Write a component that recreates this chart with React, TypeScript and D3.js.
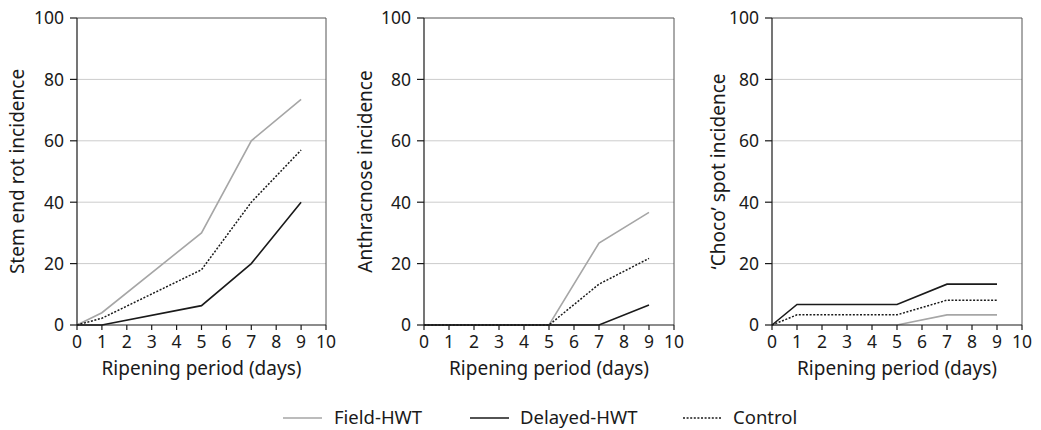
import React from "react";
import * as d3 from "d3";

const days = [0, 1, 5, 7, 9];
const xTicks = [0, 1, 2, 3, 4, 5, 6, 7, 8, 9, 10];
const yTicks = [0, 20, 40, 60, 80, 100];

const seriesNames = ["Field-HWT", "Delayed-HWT", "Control"];

const stemField = [0, 4, 30, 60, 73.5];
const stemDelayed = [0, 0, 6.3, 20, 40];
const stemControl = [0, 2.2, 18, 40, 57];

const anthField = [0, 0, 0, 26.7, 36.7];
const anthDelayed = [0, 0, 0, 0, 6.5];
const anthControl = [0, 0, 0, 13.3, 21.7];

const chocoField = [0, 0, 0, 3.3, 3.3];
const chocoDelayed = [0, 6.7, 6.7, 13.3, 13.3];
const chocoControl = [0, 3.3, 3.3, 8.1, 8.1];

const panelTitles = ["Stem end rot incidence", "Anthracnose incidence", "\u2018Choco\u2019 spot incidence"];
const xTitle = "Ripening period (days)";

const panels = [
  { title: panelTitles[0], data: [stemField, stemDelayed, stemControl], x0: 77, x1: 326, tx: 17 },
  { title: panelTitles[1], data: [anthField, anthDelayed, anthControl], x0: 424, x1: 674, tx: 365 },
  { title: panelTitles[2], data: [chocoField, chocoDelayed, chocoControl], x0: 772, x1: 1022, tx: 718 },
];

const styles = [
  { stroke: "#a6a6a6", dash: undefined as string | undefined, width: 1.6 },
  { stroke: "#1a1a1a", dash: undefined as string | undefined, width: 1.6 },
  { stroke: "#1a1a1a", dash: "2,1.6", width: 1.5 },
];

const FONT = "'Noto Sans', sans-serif";
const TOP = 18;
const BOTTOM = 325;

function Panel({ p }: { p: typeof panels[number] }) {
  const x = d3.scaleLinear().domain([0, 10]).range([p.x0, p.x1]);
  const y = d3.scaleLinear().domain([0, 100]).range([BOTTOM, TOP]);
  const line = d3
    .line<number>()
    .x((_, i) => x(days[i]))
    .y((v) => y(v));
  return (
    <g>
      {yTicks
        .filter((t) => t > 0 && t < 100)
        .map((t) => (
          <line key={"g" + t} x1={p.x0} x2={p.x1} y1={y(t)} y2={y(t)} stroke="#cccccc" strokeWidth={1} />
        ))}
      <line x1={p.x0} x2={p.x1} y1={TOP} y2={TOP} stroke="#555" strokeWidth={1} />
      <line x1={p.x1} x2={p.x1} y1={TOP} y2={BOTTOM} stroke="#555" strokeWidth={1} />
      {[0, 2, 1].map((si) => (
        <path
          key={si}
          d={line(p.data[si]) || ""}
          fill="none"
          stroke={styles[si].stroke}
          strokeWidth={styles[si].width}
          strokeDasharray={styles[si].dash}
        />
      ))}
      <line x1={p.x0} x2={p.x0} y1={TOP} y2={BOTTOM} stroke="#1a1a1a" strokeWidth={1.2} />
      <line x1={p.x0} x2={p.x1} y1={BOTTOM} y2={BOTTOM} stroke="#1a1a1a" strokeWidth={1.2} />
      {yTicks.map((t) => (
        <g key={"y" + t}>
          <line x1={p.x0 - 7} x2={p.x0} y1={y(t)} y2={y(t)} stroke="#1a1a1a" strokeWidth={1.2} />
          <text x={p.x0 - 13} y={y(t)} dy="0.36em" textAnchor="end" fontSize={17.5} fill="#1a1a1a" fontFamily={FONT}>
            {t}
          </text>
        </g>
      ))}
      {xTicks.map((t) => (
        <g key={"x" + t}>
          <line x1={x(t)} x2={x(t)} y1={BOTTOM} y2={BOTTOM + 5} stroke="#1a1a1a" strokeWidth={1.2} />
          <text x={x(t)} y={348} textAnchor="middle" fontSize={17.5} fill="#1a1a1a" fontFamily={FONT}>
            {t}
          </text>
        </g>
      ))}
      <text x={(p.x0 + p.x1) / 2} y={375} textAnchor="middle" fontSize={19} fill="#1a1a1a" fontFamily={FONT}>
        {xTitle}
      </text>
      <text
        transform={`translate(${p.tx},${(TOP + BOTTOM) / 2}) rotate(-90)`}
        dy="0.35em"
        textAnchor="middle"
        fontSize={19}
        fill="#1a1a1a"
        fontFamily={FONT}
      >
        {p.title}
      </text>
    </g>
  );
}

const legendPos = [
  { lx: 283, tx: 334 },
  { lx: 470, tx: 520 },
  { lx: 683, tx: 733 },
];

export default function App() {
  return (
    <svg width={1041} height={430} style={{ position: "absolute", left: 0, top: 0, background: "#fff" }}>
      {panels.map((p, i) => (
        <Panel key={i} p={p} />
      ))}
      {seriesNames.map((n, i) => (
        <g key={n}>
          <line
            x1={legendPos[i].lx}
            x2={legendPos[i].lx + 39}
            y1={418}
            y2={418}
            stroke={styles[i].stroke}
            strokeWidth={styles[i].width}
            strokeDasharray={styles[i].dash}
          />
          <text x={legendPos[i].tx} y={424} fontSize={18.5} fill="#1a1a1a" fontFamily={FONT}>
            {n}
          </text>
        </g>
      ))}
    </svg>
  );
}
